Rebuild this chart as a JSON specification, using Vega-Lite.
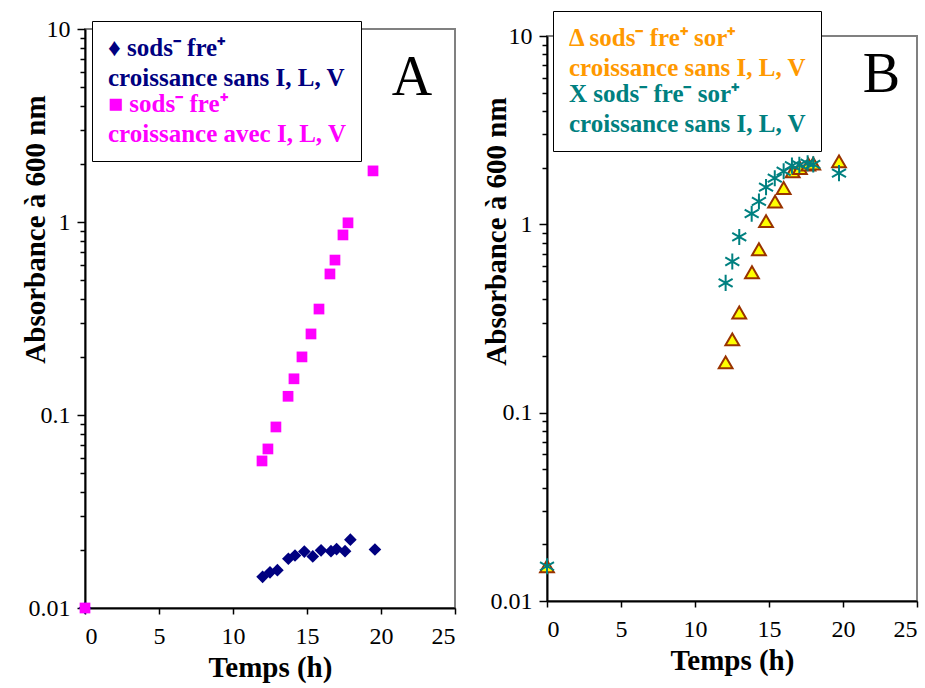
{
  "$schema": "https://vega.github.io/schema/vega-lite/v6.json",
  "background": "white",
  "padding": {"left": 19, "top": 9, "right": 5, "bottom": 5},
  "bounds": "flush",
  "center": true,
  "spacing": 92,
  "resolve": {
    "scale": {"shape": "independent", "color": "independent", "size": "independent", "fill": "independent", "stroke": "independent", "x": "independent", "y": "independent"},
    "legend": {"shape": "independent", "color": "independent", "size": "independent", "fill": "independent", "stroke": "independent"}
  },
  "config": {
    "font": "Liberation Serif",
    "view": {"stroke": "#808080", "strokeWidth": 2},
    "axis": {
      "domainColor": "black", "domainWidth": 2, "tickColor": "black", "tickWidth": 1.5,
      "labelFont": "Liberation Serif", "labelFontSize": 24, "labelColor": "black",
      "titleFont": "Liberation Serif", "titleFontSize": 29, "titleFontWeight": "bold", "titleColor": "black",
      "grid": false
    },
    "legend": {
      "title": null, "labelFont": "Liberation Serif", "labelFontSize": 25, "labelFontWeight": "bold",
      "labelLimit": 600, "symbolOpacity": 0, "symbolStrokeWidth": 0,
      "strokeColor": "black", "fillColor": "white", "padding": 14, "rowPadding": 0, "labelOffset": -23
    }
  },
  "datasets": {
    "A": [
      {"t": 0, "abs": 0.01, "serie": "♦ sods⁻ fre⁺|croissance sans I, L, V"},
      {"t": 12.0, "abs": 0.0145, "serie": "♦ sods⁻ fre⁺|croissance sans I, L, V"},
      {"t": 12.5, "abs": 0.0153, "serie": "♦ sods⁻ fre⁺|croissance sans I, L, V"},
      {"t": 13.0, "abs": 0.0157, "serie": "♦ sods⁻ fre⁺|croissance sans I, L, V"},
      {"t": 13.74, "abs": 0.018, "serie": "♦ sods⁻ fre⁺|croissance sans I, L, V"},
      {"t": 14.19, "abs": 0.0187, "serie": "♦ sods⁻ fre⁺|croissance sans I, L, V"},
      {"t": 14.82, "abs": 0.0196, "serie": "♦ sods⁻ fre⁺|croissance sans I, L, V"},
      {"t": 15.39, "abs": 0.0185, "serie": "♦ sods⁻ fre⁺|croissance sans I, L, V"},
      {"t": 15.95, "abs": 0.0199, "serie": "♦ sods⁻ fre⁺|croissance sans I, L, V"},
      {"t": 16.62, "abs": 0.0197, "serie": "♦ sods⁻ fre⁺|croissance sans I, L, V"},
      {"t": 17.0, "abs": 0.0202, "serie": "♦ sods⁻ fre⁺|croissance sans I, L, V"},
      {"t": 17.57, "abs": 0.0197, "serie": "♦ sods⁻ fre⁺|croissance sans I, L, V"},
      {"t": 17.93, "abs": 0.0226, "serie": "♦ sods⁻ fre⁺|croissance sans I, L, V"},
      {"t": 19.59, "abs": 0.0201, "serie": "♦ sods⁻ fre⁺|croissance sans I, L, V"},
      {"t": 0, "abs": 0.01, "serie": "■ sods⁻ fre⁺|croissance avec I, L, V"},
      {"t": 11.96, "abs": 0.0578, "serie": "■ sods⁻ fre⁺|croissance avec I, L, V"},
      {"t": 12.36, "abs": 0.0667, "serie": "■ sods⁻ fre⁺|croissance avec I, L, V"},
      {"t": 12.9, "abs": 0.0867, "serie": "■ sods⁻ fre⁺|croissance avec I, L, V"},
      {"t": 13.72, "abs": 0.125, "serie": "■ sods⁻ fre⁺|croissance avec I, L, V"},
      {"t": 14.12, "abs": 0.154, "serie": "■ sods⁻ fre⁺|croissance avec I, L, V"},
      {"t": 14.66, "abs": 0.2, "serie": "■ sods⁻ fre⁺|croissance avec I, L, V"},
      {"t": 15.27, "abs": 0.263, "serie": "■ sods⁻ fre⁺|croissance avec I, L, V"},
      {"t": 15.81, "abs": 0.354, "serie": "■ sods⁻ fre⁺|croissance avec I, L, V"},
      {"t": 16.55, "abs": 0.538, "serie": "■ sods⁻ fre⁺|croissance avec I, L, V"},
      {"t": 16.89, "abs": 0.635, "serie": "■ sods⁻ fre⁺|croissance avec I, L, V"},
      {"t": 17.43, "abs": 0.857, "serie": "■ sods⁻ fre⁺|croissance avec I, L, V"},
      {"t": 17.77, "abs": 0.99, "serie": "■ sods⁻ fre⁺|croissance avec I, L, V"},
      {"t": 19.46, "abs": 1.84, "serie": "■ sods⁻ fre⁺|croissance avec I, L, V"}
    ],
    "B": [
      {"t": 0, "abs": 0.0153, "serie": "Δ sods⁻ fre⁺ sor⁺|croissance sans I, L, V"},
      {"t": 12.07, "abs": 0.185, "serie": "Δ sods⁻ fre⁺ sor⁺|croissance sans I, L, V"},
      {"t": 12.52, "abs": 0.245, "serie": "Δ sods⁻ fre⁺ sor⁺|croissance sans I, L, V"},
      {"t": 12.99, "abs": 0.34, "serie": "Δ sods⁻ fre⁺ sor⁺|croissance sans I, L, V"},
      {"t": 13.85, "abs": 0.557, "serie": "Δ sods⁻ fre⁺ sor⁺|croissance sans I, L, V"},
      {"t": 14.32, "abs": 0.738, "serie": "Δ sods⁻ fre⁺ sor⁺|croissance sans I, L, V"},
      {"t": 14.8, "abs": 1.04, "serie": "Δ sods⁻ fre⁺ sor⁺|croissance sans I, L, V"},
      {"t": 15.41, "abs": 1.32, "serie": "Δ sods⁻ fre⁺ sor⁺|croissance sans I, L, V"},
      {"t": 15.99, "abs": 1.56, "serie": "Δ sods⁻ fre⁺ sor⁺|croissance sans I, L, V"},
      {"t": 16.6, "abs": 1.91, "serie": "Δ sods⁻ fre⁺ sor⁺|croissance sans I, L, V"},
      {"t": 17.09, "abs": 1.99, "serie": "Δ sods⁻ fre⁺ sor⁺|croissance sans I, L, V"},
      {"t": 17.66, "abs": 2.08, "serie": "Δ sods⁻ fre⁺ sor⁺|croissance sans I, L, V"},
      {"t": 17.99, "abs": 2.1, "serie": "Δ sods⁻ fre⁺ sor⁺|croissance sans I, L, V"},
      {"t": 19.73, "abs": 2.16, "serie": "Δ sods⁻ fre⁺ sor⁺|croissance sans I, L, V"},
      {"t": 0, "abs": 0.0153, "serie": "X sods⁻ fre⁻ sor⁺|croissance sans I, L, V"},
      {"t": 12.07, "abs": 0.489, "serie": "X sods⁻ fre⁻ sor⁺|croissance sans I, L, V"},
      {"t": 12.52, "abs": 0.635, "serie": "X sods⁻ fre⁻ sor⁺|croissance sans I, L, V"},
      {"t": 12.99, "abs": 0.857, "serie": "X sods⁻ fre⁻ sor⁺|croissance sans I, L, V"},
      {"t": 13.83, "abs": 1.139, "serie": "X sods⁻ fre⁻ sor⁺|croissance sans I, L, V"},
      {"t": 14.32, "abs": 1.323, "serie": "X sods⁻ fre⁻ sor⁺|croissance sans I, L, V"},
      {"t": 14.8, "abs": 1.575, "serie": "X sods⁻ fre⁻ sor⁺|croissance sans I, L, V"},
      {"t": 15.39, "abs": 1.758, "serie": "X sods⁻ fre⁻ sor⁺|croissance sans I, L, V"},
      {"t": 15.99, "abs": 1.914, "serie": "X sods⁻ fre⁻ sor⁺|croissance sans I, L, V"},
      {"t": 16.55, "abs": 2.05, "serie": "X sods⁻ fre⁻ sor⁺|croissance sans I, L, V"},
      {"t": 17.05, "abs": 2.07, "serie": "X sods⁻ fre⁻ sor⁺|croissance sans I, L, V"},
      {"t": 17.61, "abs": 2.11, "serie": "X sods⁻ fre⁻ sor⁺|croissance sans I, L, V"},
      {"t": 17.99, "abs": 2.08, "serie": "X sods⁻ fre⁻ sor⁺|croissance sans I, L, V"},
      {"t": 19.73, "abs": 1.87, "serie": "X sods⁻ fre⁻ sor⁺|croissance sans I, L, V"}
    ]
  },
  "hconcat": [
    {
      "width": 370, "height": 579,
      "layer": [
        {
          "data": {"name": "A"},
          "mark": {"type": "point", "filled": true, "opacity": 1},
          "encoding": {
            "x": {"field": "t", "type": "quantitative", "scale": {"domain": [0, 25], "nice": false},
              "axis": {"values": [0, 5, 10, 15, 20, 25], "title": "Temps (h)", "tickSize": 6, "labelPadding": 10, "titlePadding": 5}},
            "y": {"field": "abs", "type": "quantitative", "scale": {"type": "log", "domain": [0.01, 10], "nice": false},
              "axis": {
                "values": [0.01,0.02,0.03,0.04,0.05,0.06,0.07,0.08,0.09,0.1,0.2,0.3,0.4,0.5,0.6,0.7,0.8,0.9,1,2,3,4,5,6,7,8,9,10],
                "format": "~g",
                "labelExpr": "indexof([0.01,0.1,1,10], datum.value) >= 0 ? datum.label : ''",
                "tickSize": {"condition": {"test": "indexof([0.01,0.1,1,10], datum.value) >= 0", "value": 8}, "value": 5},
                "labelPadding": 7,
                "title": "Absorbance à 600 nm",
                "titleX": -50, "titleY": 200, "titleAngle": 270, "titleAlign": "center", "titleBaseline": "middle"
              }},
            "color": {"field": "serie", "type": "nominal",
              "scale": {"domain": ["♦ sods⁻ fre⁺|croissance sans I, L, V", "■ sods⁻ fre⁺|croissance avec I, L, V"], "range": ["#000080", "#FF00FF"]},
              "legend": {
                "orient": "none", "legendX": 7, "legendY": -8,
                "labelFont": "Liberation Serif",
                "labelExpr": "split(datum.label, '|')",
                "labelColor": {"expr": "indexof(datum.value, 'sans') >= 0 ? '#000080' : '#FF00FF'"},
                "encode": {"labels": {"update": {"lineHeight": {"value": 30}}}}
              }},
            "shape": {"field": "serie", "type": "nominal",
              "scale": {"domain": ["♦ sods⁻ fre⁺|croissance sans I, L, V", "■ sods⁻ fre⁺|croissance avec I, L, V"], "range": ["diamond", "square"]}},
            "size": {"field": "serie", "type": "nominal",
              "scale": {"domain": ["♦ sods⁻ fre⁺|croissance sans I, L, V", "■ sods⁻ fre⁺|croissance avec I, L, V"], "range": [160, 115]}}
          }
        },
        {
          "data": {"values": [{}]},
          "mark": {"type": "text", "fontSize": 56, "font": "Liberation Serif", "color": "black"},
          "encoding": {"x": {"datum": 22.1}, "y": {"datum": 5.6}, "text": {"value": "A"}}
        }
      ]
    },
    {
      "width": 370, "height": 565,
      "layer": [
        {
          "data": {"name": "B"},
          "mark": {"type": "point", "opacity": 1, "strokeWidth": 2},
          "encoding": {
            "x": {"field": "t", "type": "quantitative", "scale": {"domain": [0, 25], "nice": false},
              "axis": {"values": [0, 5, 10, 15, 20, 25], "title": "Temps (h)", "tickSize": 6, "labelPadding": 10, "titlePadding": 5}},
            "y": {"field": "abs", "type": "quantitative", "scale": {"type": "log", "domain": [0.01, 10], "nice": false},
              "axis": {
                "values": [0.01,0.02,0.03,0.04,0.05,0.06,0.07,0.08,0.09,0.1,0.2,0.3,0.4,0.5,0.6,0.7,0.8,0.9,1,2,3,4,5,6,7,8,9,10],
                "format": "~g",
                "labelExpr": "indexof([0.01,0.1,1,10], datum.value) >= 0 ? datum.label : ''",
                "tickSize": {"condition": {"test": "indexof([0.01,0.1,1,10], datum.value) >= 0", "value": 8}, "value": 5},
                "labelPadding": 7,
                "title": "Absorbance à 600 nm",
                "titleX": -51, "titleY": 195, "titleAngle": 270, "titleAlign": "center", "titleBaseline": "middle"
              }},
            "fill": {"field": "serie", "type": "nominal",
              "scale": {"domain": ["Δ sods⁻ fre⁺ sor⁺|croissance sans I, L, V", "X sods⁻ fre⁻ sor⁺|croissance sans I, L, V"], "range": ["#FFFF00", "transparent"]},
              "legend": {
                "orient": "none", "legendX": 6, "legendY": -25,
                "labelFont": "Liberation Serif",
                "labelExpr": "split(datum.label, '|')",
                "labelColor": {"expr": "indexof(datum.value, 'Δ') >= 0 ? '#FF9900' : '#008080'"},
                "encode": {"labels": {"update": {"lineHeight": {"value": 30}}}}
              }},
            "stroke": {"field": "serie", "type": "nominal",
              "scale": {"domain": ["Δ sods⁻ fre⁺ sor⁺|croissance sans I, L, V", "X sods⁻ fre⁻ sor⁺|croissance sans I, L, V"], "range": ["#993300", "#008080"]}},
            "shape": {"field": "serie", "type": "nominal",
              "scale": {"domain": ["Δ sods⁻ fre⁺ sor⁺|croissance sans I, L, V", "X sods⁻ fre⁻ sor⁺|croissance sans I, L, V"],
                "range": ["triangle-up", "M0,-1L0,1M-0.87,-0.5L0.87,0.5M-0.87,0.5L0.87,-0.5"]}},
            "size": {"field": "serie", "type": "nominal",
              "scale": {"domain": ["Δ sods⁻ fre⁺ sor⁺|croissance sans I, L, V", "X sods⁻ fre⁻ sor⁺|croissance sans I, L, V"], "range": [190, 260]}}
          }
        },
        {
          "data": {"values": [{}]},
          "mark": {"type": "text", "fontSize": 56, "font": "Liberation Serif", "color": "black"},
          "encoding": {"x": {"datum": 22.6}, "y": {"datum": 6.2}, "text": {"value": "B"}}
        }
      ]
    }
  ]
}
